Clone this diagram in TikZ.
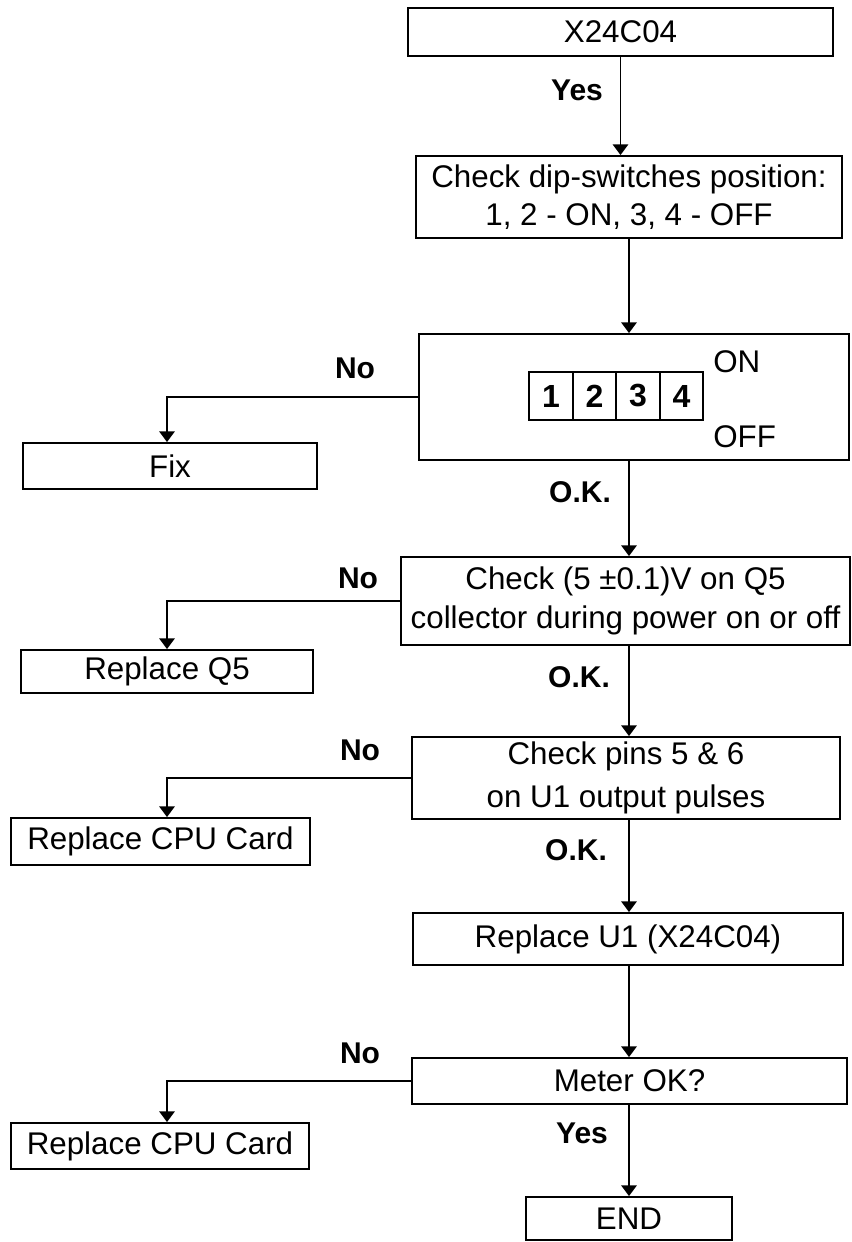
\documentclass[tikz,border=0pt]{standalone}
\usepackage{fontspec}
\setmainfont{Liberation Sans}
\usetikzlibrary{arrows.meta}
\begin{document}
\begin{tikzpicture}[x=0.75pt,y=-0.75pt,
  box/.style={draw,line width=1.4pt,inner sep=0pt,align=center,
    font=\fontsize{23.5}{27}\selectfont},
  cell/.style={draw,line width=1.4pt,inner sep=0pt,minimum width=43.5*0.75pt,
    minimum height=48*0.75pt,font=\fontsize{24}{27}\selectfont\bfseries},
  lbl/.style={font=\fontsize{22.5}{26}\selectfont\bfseries,inner sep=0pt},
  plain/.style={font=\fontsize{23.5}{27}\selectfont,inner sep=0pt},
  arr/.style={line width=1.4pt,-{Triangle[length=8pt,width=11.5pt]}},
  ln/.style={line width=1.4pt}]
\useasboundingbox (0,0) rectangle (852,1242);
\coordinate (tr) at (629,0);
\coordinate (bx) at (167,0);
% boxes
\node[box,minimum width=425*0.75pt,minimum height=48*0.75pt] (b1) at (620.5,32) {X24C04};
\node[box,minimum width=426*0.75pt,minimum height=82*0.75pt] (b2) at (629,197)
  {Check dip-switches position:\\[2pt]1, 2 - ON, 3, 4 - OFF};
\node[box,minimum width=430*0.75pt,minimum height=126*0.75pt] (b3) at (634,397) {};
\node[cell] (d1) at (551,396) {1};
\node[cell] (d2) at (594.5,396) {2};
\node[cell] (d3) at (638,396) {3};
\node[cell] (d4) at (681.5,396) {4};
\node[plain,anchor=west] (on) at (713,362) {ON};
\node[plain,anchor=west] (off) at (713,437) {OFF};
\node[box,minimum width=294*0.75pt,minimum height=46*0.75pt] (fix) at (170,466) {Fix};
\node[box,minimum width=449*0.75pt,minimum height=88*0.75pt] (b4) at (625.5,601)
  {Check (5 ±0.1)V on Q5\\[2pt]collector during power on or off};
\node[box,minimum width=292*0.75pt,minimum height=43*0.75pt] (q5) at (167,671.5) {Replace Q5};
\node[box,minimum width=428*0.75pt,minimum height=82*0.75pt] (b5) at (626,778)
  {Check pins 5 \& 6\\[5pt]on U1 output pulses};
\node[box,minimum width=299*0.75pt,minimum height=47*0.75pt] (cpu1) at (160.5,841.5) {Replace CPU Card};
\node[box,minimum width=430*0.75pt,minimum height=52*0.75pt] (b6) at (628,939) {Replace U1 (X24C04)};
\node[box,minimum width=435*0.75pt,minimum height=46*0.75pt] (b7) at (629.5,1081) {Meter OK?};
\node[box,minimum width=298*0.75pt,minimum height=46*0.75pt] (cpu2) at (160,1146) {Replace CPU Card};
\node[box,minimum width=206*0.75pt,minimum height=43*0.75pt] (end) at (629,1218.5) {END};
% labels
\node[lbl] (l1) at (577,90) {Yes};
\node[lbl] (l2) at (355,368) {No};
\node[lbl] (l3) at (580,492) {O.K.};
\node[lbl] (l4) at (358,578) {No};
\node[lbl] (l5) at (579,677) {O.K.};
\node[lbl] (l6) at (360,750) {No};
\node[lbl] (l7) at (576,850) {O.K.};
\node[lbl] (l8) at (360,1053) {No};
\node[lbl] (l9) at (582,1133) {Yes};
% connectors
\draw[arr] (b1.south) -- (b1.south |- b2.north);
\draw[arr] (b2.south -| tr) -- (b3.north -| tr);
\draw[arr] (b3.south -| tr) -- (b4.north -| tr);
\draw[arr] (b4.south -| tr) -- (b5.north -| tr);
\draw[arr] (b5.south -| tr) -- (b6.north -| tr);
\draw[arr] (b6.south -| tr) -- (b7.north -| tr);
\draw[arr] (b7.south -| tr) -- (end.north -| tr);
\draw[arr] (b3.west) -| (fix.north -| bx);
\draw[arr] (b4.west) -| (q5.north -| bx);
\draw[arr] (b5.west) -| (cpu1.north -| bx);
\draw[arr] (b7.west) -| (cpu2.north -| bx);
\end{tikzpicture}
\end{document}
